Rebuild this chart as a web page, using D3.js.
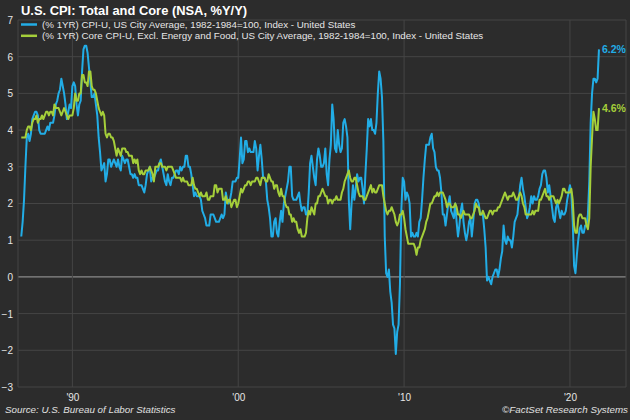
<!DOCTYPE html>
<html>
<head>
<meta charset="utf-8">
<script src="https://cdn.jsdelivr.net/npm/d3@7"></script>
<style>
  html, body { margin: 0; padding: 0; background: #2c2c2c; }
  svg { display: block; }
  text { font-family: "Liberation Sans", Arial, sans-serif; }
</style>
</head>
<body>
<svg id="chart" width="630" height="420"></svg>
<script>
// Monthly series start: Dec 1986
const startYear = 1986;
const startMonth = 11; // 0-based (December)

const cpiValues = [
  1.1,
  1.5, 2.1, 3.0, 3.8, 3.9, 3.7, 3.9, 4.3, 4.4, 4.5, 4.5, 4.4,
  4.0, 3.9, 3.9, 3.9, 3.9, 4.0, 4.1, 4.0, 4.2, 4.2, 4.2, 4.4,
  4.7, 4.8, 5.0, 5.1, 5.4, 5.2, 5.0, 4.7, 4.3, 4.5, 4.7, 4.6,
  5.2, 5.3, 5.2, 4.7, 4.4, 4.7, 4.8, 5.6, 6.2, 6.3, 6.3, 6.1,
  5.7, 5.3, 4.9, 4.9, 5.0, 4.7, 4.4, 3.8, 3.4, 2.9, 3.0, 3.1,
  2.6, 2.8, 3.2, 3.2, 3.0, 3.1, 3.2, 3.1, 3.0, 3.2, 3.0, 2.9,
  3.3, 3.2, 3.1, 3.2, 3.2, 3.0, 2.8, 2.8, 2.7, 2.8, 2.7, 2.7,
  2.5, 2.5, 2.5, 2.4, 2.3, 2.5, 2.8, 2.9, 3.0, 2.6, 2.7, 2.7,
  2.8, 2.9, 2.9, 3.1, 3.2, 3.0, 2.8, 2.6, 2.5, 2.8, 2.6, 2.5,
  2.7, 2.7, 2.8, 2.9, 2.9, 2.8, 3.0, 2.9, 3.0, 3.0, 3.3, 3.3,
  3.0, 3.0, 2.8, 2.5, 2.2, 2.3, 2.2, 2.2, 2.2, 2.1, 1.8, 1.7,
  1.6, 1.4, 1.4, 1.4, 1.7, 1.7, 1.7, 1.6, 1.5, 1.5, 1.5, 1.6,
  1.7, 1.6, 1.7, 2.3, 2.1, 2.0, 2.1, 2.3, 2.6, 2.6, 2.6, 2.7,
  2.7, 3.2, 3.8, 3.1, 3.2, 3.7, 3.7, 3.4, 3.5, 3.4, 3.4, 3.4,
  3.7, 3.5, 2.9, 3.3, 3.6, 3.2, 2.7, 2.7, 2.6, 2.1, 1.9, 1.6,
  1.1, 1.1, 1.5, 1.6, 1.2, 1.1, 1.5, 1.8, 1.5, 2.0, 2.2, 2.4,
  2.6, 3.0, 3.0, 2.2, 2.1, 2.1, 2.1, 2.2, 2.3, 2.0, 1.8, 1.9,
  1.9, 1.7, 1.7, 2.3, 3.1, 3.3, 3.0, 2.7, 2.5, 3.2, 3.5, 3.3,
  3.0, 3.0, 3.1, 3.5, 2.8, 2.5, 3.2, 3.6, 4.7, 4.3, 3.5, 3.4,
  4.0, 3.6, 3.4, 3.5, 4.2, 4.3, 4.1, 3.8, 2.1, 1.3, 2.0, 2.5,
  2.1, 2.4, 2.8, 2.6, 2.7, 2.7, 2.4, 2.0, 2.8, 3.5, 4.3, 4.1,
  4.3, 4.0, 4.0, 3.9, 4.2, 5.0, 5.6, 5.4, 4.9, 3.7, 1.1, 0.1,
  0.0, 0.2, -0.4, -0.7, -1.3, -1.4, -2.1, -1.5, -1.3, -0.2, 1.8, 2.7,
  2.6, 2.1, 2.3, 2.2, 2.0, 1.1, 1.2, 1.1, 1.1, 1.2, 1.1, 1.5,
  1.6, 2.1, 2.7, 3.2, 3.6, 3.6, 3.6, 3.8, 3.9, 3.5, 3.4, 3.0,
  2.9, 2.9, 2.7, 2.3, 1.7, 1.7, 1.4, 1.7, 2.0, 2.2, 1.8, 1.7,
  1.6, 2.0, 1.5, 1.1, 1.4, 1.8, 2.0, 1.5, 1.2, 1.0, 1.2, 1.5,
  1.6, 1.1, 1.5, 2.0, 2.1, 2.1, 2.0, 1.7, 1.7, 1.7, 1.3, 0.8,
  -0.1, 0.0, -0.1, -0.2, 0.0, 0.1, 0.2, 0.2, 0.0, 0.2, 0.5, 0.7,
  1.4, 1.0, 0.9, 1.1, 1.0, 1.0, 0.8, 1.1, 1.5, 1.6, 1.7, 2.1,
  2.5, 2.7, 2.4, 2.2, 1.9, 1.6, 1.7, 1.9, 2.2, 2.0, 2.2, 2.1,
  2.1, 2.2, 2.4, 2.5, 2.8, 2.9, 2.9, 2.7, 2.3, 2.5, 2.2, 1.9,
  1.6, 1.5, 1.9, 2.0, 1.8, 1.6, 1.8, 1.7, 1.7, 1.8, 2.1, 2.3,
  2.5, 2.3, 1.5, 0.3, 0.1, 0.6, 1.0, 1.3, 1.4, 1.2, 1.2, 1.4,
  1.4, 1.7, 2.6, 4.2, 5.0, 5.4, 5.4, 5.3, 5.4, 6.2
];

const coreValues = [
  3.8,
  3.8, 3.8, 3.8, 4.0, 4.1, 4.1, 4.0, 4.2, 4.3, 4.3, 4.4, 4.2,
  4.3, 4.3, 4.4, 4.3, 4.4, 4.5, 4.5, 4.4, 4.5, 4.5, 4.4, 4.7,
  4.6, 4.6, 4.6, 4.5, 4.4, 4.5, 4.6, 4.5, 4.4, 4.3, 4.4, 4.4,
  4.4, 4.6, 5.0, 4.8, 4.8, 5.0, 5.0, 5.5, 5.5, 5.3, 5.3, 5.2,
  5.6, 5.6, 5.2, 5.1, 5.1, 5.0, 4.8, 4.6, 4.5, 4.4, 4.5, 4.4,
  3.9, 3.8, 3.9, 3.9, 3.8, 3.8, 3.7, 3.5, 3.3, 3.5, 3.4, 3.3,
  3.5, 3.5, 3.5, 3.4, 3.4, 3.3, 3.3, 3.3, 3.1, 3.2, 3.1, 3.2,
  2.9, 2.8, 2.9, 2.8, 2.8, 2.9, 2.9, 2.9, 3.0, 2.9, 2.8, 2.6,
  3.0, 3.0, 3.0, 3.1, 3.1, 3.0, 3.0, 3.0, 2.9, 3.0, 3.0, 3.0,
  3.0, 2.9, 2.8, 2.7, 2.7, 2.7, 2.7, 2.6, 2.7, 2.6, 2.6, 2.6,
  2.5, 2.5, 2.5, 2.7, 2.5, 2.4, 2.4, 2.3, 2.2, 2.3, 2.2, 2.2,
  2.2, 2.3, 2.1, 2.1, 2.2, 2.2, 2.2, 2.5, 2.5, 2.3, 2.4, 2.4,
  2.4, 2.1, 2.1, 2.2, 2.0, 2.1, 2.1, 1.9, 2.0, 2.1, 2.1, 1.9,
  2.0, 2.2, 2.4, 2.3, 2.4, 2.5, 2.5, 2.6, 2.6, 2.5, 2.6, 2.6,
  2.6, 2.7, 2.7, 2.6, 2.5, 2.7, 2.7, 2.7, 2.6, 2.6, 2.8, 2.7,
  2.6, 2.6, 2.4, 2.5, 2.5, 2.3, 2.2, 2.4, 2.2, 2.2, 2.0, 1.9,
  1.9, 1.7, 1.7, 1.5, 1.6, 1.5, 1.5, 1.3, 1.2, 1.3, 1.1, 1.1,
  1.1, 1.2, 1.6, 1.8, 1.7, 1.9, 1.8, 1.7, 2.0, 2.0, 2.2, 2.2,
  2.3, 2.4, 2.3, 2.2, 2.2, 2.0, 2.1, 2.1, 2.0, 2.1, 2.1, 2.2,
  2.1, 2.1, 2.1, 2.3, 2.4, 2.6, 2.7, 2.8, 2.9, 2.7, 2.6, 2.6,
  2.7, 2.7, 2.5, 2.3, 2.2, 2.2, 2.2, 2.1, 2.1, 2.2, 2.3, 2.4,
  2.5, 2.3, 2.4, 2.3, 2.3, 2.4, 2.5, 2.5, 2.5, 2.2, 2.0, 1.8,
  1.7, 1.8, 1.8, 1.9, 1.8, 1.7, 1.5, 1.4, 1.5, 1.7, 1.7, 1.8,
  1.6, 1.3, 1.1, 0.9, 0.9, 0.9, 0.9, 0.9, 0.8, 0.6, 0.8, 0.8,
  1.0, 1.1, 1.2, 1.3, 1.5, 1.6, 1.8, 2.0, 2.0, 2.1, 2.2, 2.2,
  2.3, 2.2, 2.3, 2.3, 2.3, 2.2, 2.1, 1.9, 2.0, 2.0, 1.9, 1.9,
  1.9, 2.0, 1.9, 1.7, 1.7, 1.6, 1.7, 1.8, 1.7, 1.7, 1.7, 1.7,
  1.6, 1.6, 1.7, 1.8, 2.0, 1.9, 1.9, 1.7, 1.7, 1.8, 1.7, 1.6,
  1.6, 1.7, 1.8, 1.8, 1.7, 1.8, 1.8, 1.8, 1.9, 1.9, 2.0, 2.1,
  2.2, 2.3, 2.2, 2.1, 2.2, 2.2, 2.2, 2.3, 2.2, 2.1, 2.1, 2.2,
  2.3, 2.2, 2.0, 1.9, 1.7, 1.7, 1.7, 1.7, 1.7, 1.8, 1.7, 1.8,
  1.8, 1.8, 2.1, 2.1, 2.2, 2.3, 2.4, 2.2, 2.2, 2.1, 2.2, 2.2,
  2.2, 2.1, 2.0, 2.1, 2.0, 2.1, 2.2, 2.4, 2.4, 2.3, 2.3, 2.3,
  2.3, 2.4, 2.1, 1.4, 1.2, 1.2, 1.6, 1.7, 1.7, 1.6, 1.6, 1.6,
  1.4, 1.3, 1.6, 3.0, 3.8, 4.5, 4.3, 4.0, 4.0, 4.6
];

const yTicks = [-3, -2, -1, 0, 1, 2, 3, 4, 5, 6, 7];
const xTickYears = [1990, 2000, 2010, 2020];
const xTickLabels = ["'90", "'00", "'10", "'20"];
const seriesNames = [
  "(% 1YR) CPI-U, US City Average, 1982-1984=100, Index - United States",
  "(% 1YR) Core CPI-U, Excl. Energy and Food, US City Average, 1982-1984=100, Index - United States"
];
const seriesColors = ["#22ade6", "#a5cf3a"];

const toYear = i => {
  const m = startMonth + i;
  return startYear + Math.floor(m / 12) + (m % 12) / 12;
};
const cpi = cpiValues.map((v, i) => ({ x: toYear(i), y: v }));
const core = coreValues.map((v, i) => ({ x: toYear(i), y: v }));

const svg = d3.select("#chart");
const W = 630, H = 420;
svg.append("rect").attr("width", W).attr("height", H).attr("fill", "#2c2c2c");

const plot = { left: 18, right: 626, top: 20, bottom: 387 };

const x = d3.scaleLinear().domain([1986.72, 2023.38]).range([plot.left, plot.right]);
const y = d3.scaleLinear().domain([-3, 7]).range([plot.bottom, plot.top]);

// horizontal gridlines
svg.append("g").selectAll("line").data(yTicks).join("line")
  .attr("x1", plot.left).attr("x2", plot.right)
  .attr("y1", d => y(d)).attr("y2", d => y(d))
  .attr("stroke", d => d === 0 ? "#8a8a8a" : "#454545")
  .attr("stroke-width", d => d === 0 ? 1.3 : 1);

// vertical gridlines
svg.append("g").selectAll("line").data(xTickYears).join("line")
  .attr("x1", d => x(d)).attr("x2", d => x(d))
  .attr("y1", plot.top).attr("y2", plot.bottom)
  .attr("stroke", "#454545").attr("stroke-width", 1);

// frame sides
svg.append("line").attr("x1", plot.left).attr("x2", plot.left)
  .attr("y1", plot.top).attr("y2", plot.bottom).attr("stroke", "#454545");
svg.append("line").attr("x1", plot.right).attr("x2", plot.right)
  .attr("y1", plot.top).attr("y2", plot.bottom).attr("stroke", "#454545");

// y axis labels (left)
const yAxis = d3.axisLeft(y).tickValues(yTicks).tickSize(0).tickPadding(0)
  .tickFormat(d3.format("d"));
const gy = svg.append("g").attr("transform", `translate(${plot.left - 5},0)`).call(yAxis);
gy.select(".domain").remove();
gy.selectAll("text").attr("fill", "#e6e6e6").attr("font-size", 10)
  .attr("font-family", "Liberation Sans, Arial, sans-serif").attr("dy", "0.34em");

// x axis labels
const xAxis = d3.axisBottom(x).tickValues(xTickYears).tickSize(0).tickPadding(7)
  .tickFormat((d, i) => xTickLabels[i]);
const gx = svg.append("g").attr("transform", `translate(0,${plot.bottom})`).call(xAxis);
gx.select(".domain").remove();
gx.selectAll("text").attr("fill", "#e6e6e6").attr("font-size", 10)
  .attr("font-family", "Liberation Sans, Arial, sans-serif");

// lines
const line = d3.line().x(d => x(d.x)).y(d => y(d.y));
svg.append("path").datum(cpi).attr("d", line).attr("fill", "none")
  .attr("stroke", seriesColors[0]).attr("stroke-width", 2).attr("stroke-linejoin", "round");
svg.append("path").datum(core).attr("d", line).attr("fill", "none")
  .attr("stroke", seriesColors[1]).attr("stroke-width", 2).attr("stroke-linejoin", "round");

// end labels
const lastCpi = cpi[cpi.length - 1], lastCore = core[core.length - 1];
svg.append("text").attr("x", x(lastCpi.x) + 3).attr("y", y(lastCpi.y)).attr("dy", "0.35em")
  .attr("fill", seriesColors[0]).attr("font-size", 10.5).attr("font-weight", "bold")
  .text(lastCpi.y.toFixed(1) + "%");
svg.append("text").attr("x", x(lastCore.x) + 3).attr("y", y(lastCore.y)).attr("dy", "0.35em")
  .attr("fill", seriesColors[1]).attr("font-size", 10.5).attr("font-weight", "bold")
  .text(lastCore.y.toFixed(1) + "%");

// title
svg.append("text").attr("x", 21).attr("y", 15).attr("fill", "#ffffff")
  .attr("font-size", 12.9).attr("font-weight", "bold")
  .text("U.S. CPI: Total and Core (NSA, %Y/Y)");

// legend
seriesNames.forEach((name, i) => {
  const ly = 24.5 + i * 11.3;
  svg.append("line").attr("x1", 21).attr("x2", 37).attr("y1", ly).attr("y2", ly)
    .attr("stroke", seriesColors[i]).attr("stroke-width", 2.5);
  svg.append("text").attr("x", 42).attr("y", ly).attr("dy", "0.35em")
    .attr("fill", "#e6e6e6").attr("font-size", 9.75).text(name);
});

// footer
svg.append("text").attr("x", 5).attr("y", 413).attr("fill", "#e0e0e0")
  .attr("font-size", 9.8).attr("font-style", "italic")
  .text("Source: U.S. Bureau of Labor Statistics");
svg.append("text").attr("x", 628).attr("y", 413).attr("text-anchor", "end").attr("fill", "#e0e0e0")
  .attr("font-size", 9.8).attr("font-style", "italic")
  .text("\u00A9FactSet Research Systems");
</script>
</body>
</html>
